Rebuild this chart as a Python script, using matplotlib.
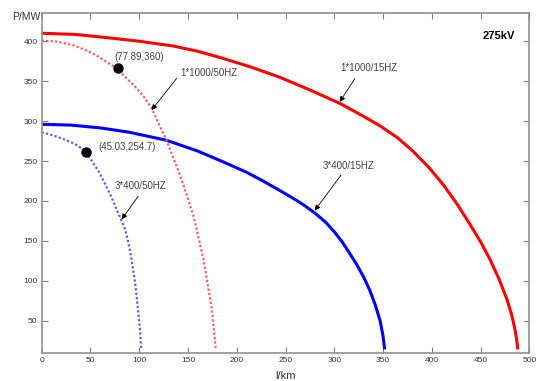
import matplotlib.pyplot as plt

# values
l_1000_15 = [0, 35, 67, 100, 135, 160, 186, 215, 244, 275, 306, 327, 347, 365,
             381, 397, 412, 426, 439, 450, 460, 469, 477, 482, 485, 487, 488]
p_1000_15 = [410, 408.5, 404.5, 400, 394, 387.5, 378.5, 367.5, 355, 339, 322, 308, 294, 279,
             262, 242, 220, 196, 171, 149, 126, 102, 77, 57, 41, 27, 16]

l_400_15 = [0, 30, 60, 90, 128, 160, 186, 210, 227, 245, 261, 271, 281, 291, 300, 308,
            316, 323, 330, 336.5, 342, 347, 350, 351.5]
p_400_15 = [296, 295, 291.5, 286, 276, 262.5, 249, 236, 225, 212.5, 201, 193, 184, 173.5,
            161.5, 149, 134, 120.5, 105, 88, 70, 50, 31, 16]

l_1000_50 = [0, 16, 32.4, 45, 56.4, 77, 97.4, 105, 112.8, 120, 128, 141.8, 155.4, 165.7,
             174.3, 178.4]
p_1000_50 = [401, 399.5, 395, 389, 382, 366, 341, 330, 316, 296.5, 276, 232.5, 182.5, 128,
             66, 16]

l_400_50 = [0, 12, 25.6, 36, 40, 44.4, 48, 52, 58, 65, 71.8, 77, 82, 85, 88,
            90.5, 93, 95.5, 97.4, 99.5, 101, 102]
p_400_50 = [286, 282, 276, 270, 266.5, 261.5, 256, 249, 238, 221.5, 204, 189, 175, 166, 153,
            138, 120, 100, 80, 55, 35, 16]

dot_l = [77.89, 45.03]
dot_p = [367, 261.5]
dot_labels = ['(77.89,360)', '(45.03,254.7)']

plt.rcParams['font.family'] = ['Liberation Sans', 'DejaVu Sans']

fig = plt.figure(figsize=(5.36, 3.81), dpi=100)
ax = fig.add_axes([0.0778, 0.0743, 0.9097, 0.8908])

ax.plot(l_1000_15, p_1000_15, color='#ff0000', lw=2.2)
ax.plot(l_400_15, p_400_15, color='#0000ff', lw=2.2)
ax.plot(l_1000_50, p_1000_50, color='#ff5a5a', lw=1.6, ls=(0, (1, 1)))
ax.plot(l_400_50, p_400_50, color='#5a5aff', lw=1.6, ls=(0, (1, 1)))
ax.plot(dot_l, dot_p, 'o', color='black', ms=6.5)

txt = '#404040'
ax.text(100, 380, dot_labels[0], fontsize=7, color=txt, ha='center', va='center')
ax.text(57.7, 267, dot_labels[1], fontsize=7, color=txt, ha='left', va='center')

arrow = dict(arrowstyle='-|>', color='black', lw=0.6, mutation_scale=8, shrinkA=0, shrinkB=0)
ax.annotate('', xy=(112.7, 313.8), xytext=(138.3, 353.4), arrowprops=arrow)
ax.text(141.7, 360.6, '1*1000/50HZ', fontsize=7, color=txt, ha='left', va='center')
ax.annotate('', xy=(305.6, 324), xytext=(321, 353), arrowprops=arrow)
ax.text(336, 367, '1*1000/15HZ', fontsize=7, color=txt, ha='center', va='center')
ax.annotate('', xy=(280, 188), xytext=(307, 232.5), arrowprops=arrow)
ax.text(288.4, 243.8, '3*400/15HZ', fontsize=7, color=txt, ha='left', va='center')
ax.annotate('', xy=(82, 177), xytext=(99, 206), arrowprops=arrow)
ax.text(75, 218.8, '3*400/50HZ', fontsize=7, color=txt, ha='left', va='center')

ax.text(485, 406, '275kV', fontsize=8, fontweight='bold', color='black', ha='right', va='center')

ax.set_xlim(0, 500)
ax.set_ylim(10, 435)
ax.set_xticks(range(0, 501, 50))
ax.set_yticks(range(50, 401, 50))
ax.tick_params(direction='in', length=4, width=0.8, color='#808080',
               labelsize=6, labelcolor='#333333', top=True, right=True, pad=3)
for s in ax.spines.values():
    s.set_color('#909090')
    s.set_linewidth(1.2)

ax.text(-0.032, 0.988, 'P/MW', transform=ax.transAxes, fontsize=7.5, color='#333333',
        ha='center', va='center')
ax.text(0.501, -0.0687, 'l/km', transform=ax.transAxes, fontsize=8, color='#333333',
        ha='center', va='center')

fig.savefig('out.png', dpi=100)
